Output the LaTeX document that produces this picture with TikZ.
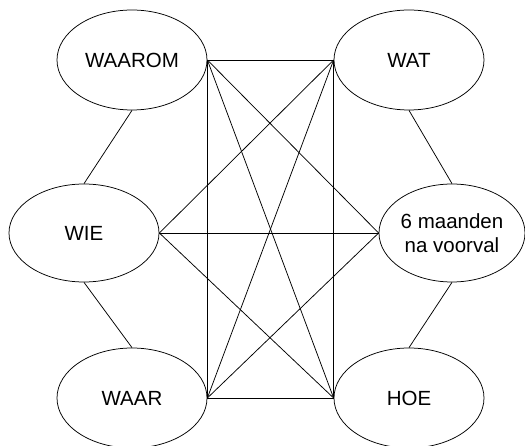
\documentclass[tikz,border=0pt]{standalone}
\usepackage{fontspec}
\setmainfont{Liberation Sans}
\usetikzlibrary{shapes.geometric}
\begin{document}
\begin{tikzpicture}[x=1pt,y=-1pt,line width=0.75pt,
  bubble/.style={draw,ellipse,inner sep=0pt,minimum width=150pt,minimum height=100pt,
    font=\fontsize{20.5}{24.5}\selectfont,align=center}]
\useasboundingbox (0,0) rectangle (525,446);
\node[bubble] (waarom) at (132,60) {WAAROM};
\node[bubble] (wat) at (409,60) {WAT};
\node[bubble,minimum height=98pt] (wie) at (84,233) {WIE};
\node[bubble,minimum width=146pt,minimum height=98pt] (maand) at (452,233) {6 maanden\\na voorval};
\node[bubble] (waar) at (132,398) {WAAR};
\node[bubble] (hoe) at (409,398) {HOE};
\draw (waarom.south) -- (wie.north);
\draw (wie.south) -- (waar.north);
\draw (wat.south) -- (maand.north);
\draw (maand.south) -- (hoe.north);
\draw (waarom.east) -- (wat.west);
\draw (waarom.east) -- (waar.east);
\draw (waarom.east) -- (hoe.west);
\draw (waarom.east) -- (maand.west);
\draw (wat.west) -- (wie.east);
\draw (wat.west) -- (waar.east);
\draw (wat.west) -- (hoe.west);
\draw (wie.east) -- (maand.west);
\draw (wie.east) -- (hoe.west);
\draw (maand.west) -- (waar.east);
\draw (waar.east) -- (hoe.west);
\end{tikzpicture}
\end{document}
